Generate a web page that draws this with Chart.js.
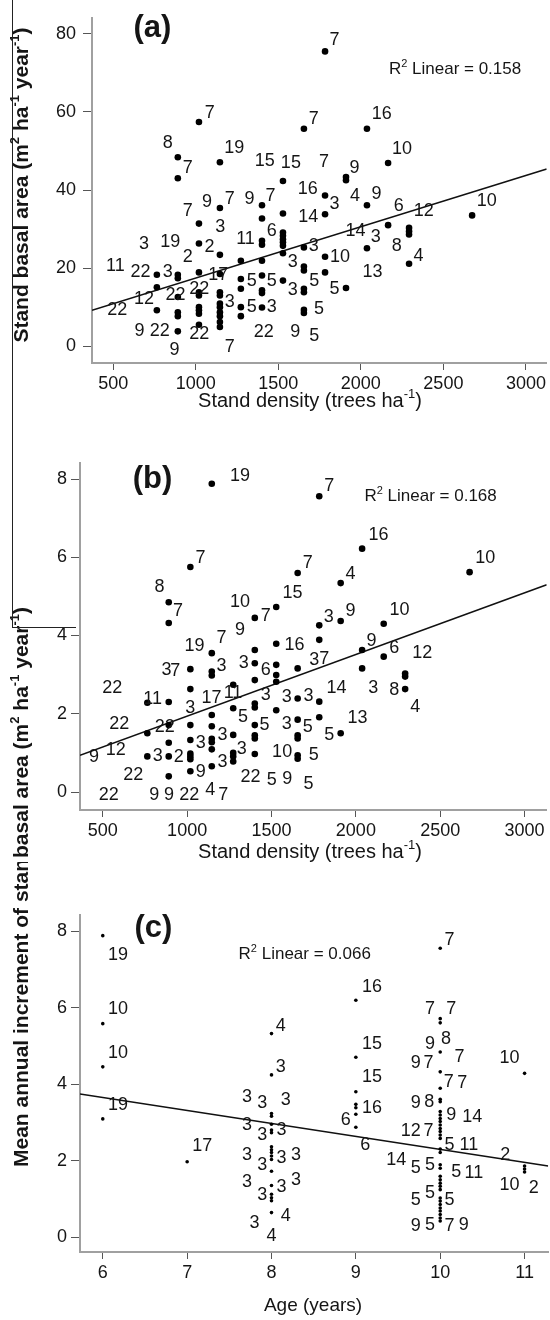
<!DOCTYPE html>
<html><head><meta charset="utf-8">
<script src="https://cdn.jsdelivr.net/npm/chart.js@4.4.0/dist/chart.umd.min.js"></script>
<style>
html,body{margin:0;padding:0;background:#fff;}
#wrap{position:relative;width:550px;height:1320px;overflow:hidden;background:#fff;}
.pane{position:absolute;left:0;width:550px;}
canvas{display:block;}
#edge{position:absolute;left:12px;top:0;width:0;height:628px;border-left:1.5px solid #222;}
#edge2{position:absolute;left:12px;top:627px;width:64px;height:0;border-top:1.5px solid #222;}
</style></head><body>
<div id="wrap">
<div class="pane" style="top:0;height:430px"><canvas id="ca" width="550" height="430"></canvas></div>
<div class="pane" style="top:430px;height:432px"><canvas id="cb" width="550" height="432"></canvas></div>
<div class="pane" style="top:862px;height:458px"><canvas id="cc" width="550" height="458"></canvas></div>
<div id="edge"></div><div id="edge2"></div>
</div>
<script>
// ---------- Panel (a): stand basal area vs stand density ----------
const densityA = [764,764,764, 891,891,891,891,891,891,891,891, 1019,1019,1019,1019,1019,1019,1019,1019,1019,1019,
  1146,1146,1146,1146,1146,1146,1146,1146,1146,1146,1146,1146, 1273,1273,1273,1273,1273,
  1401,1401,1401,1401,1401,1401,1401,1401,1401, 1528,1528,1528,1528,1528,1528,1528,1528,1528,
  1655,1655,1655,1655,1655,1655,1655,1655, 1783,1783,1783,1783,1783, 1910,1910,1910, 2037,2037,2037,
  2165,2165, 2292,2292,2292,2292, 2674];
const basalA = [18.3,15.1,9.2, 48.4,43.0,18.3,17.4,12.6,8.7,7.7,3.8, 57.4,31.4,26.3,18.9,13.8,13.0,10.0,9.2,8.3,5.5,
  47.1,35.4,23.4,18.5,13.8,13.0,10.9,10.0,8.7,7.7,6.2,4.9, 21.9,17.2,14.7,10.0,7.7,
  36.1,32.7,27.0,26.0,21.9,18.1,14.3,13.6,9.9, 42.3,34.0,29.1,28.3,27.4,26.6,25.7,23.8,16.8,
  55.7,25.3,20.4,19.4,14.7,13.8,9.3,8.5, 75.5,38.6,33.8,22.9,18.9, 43.3,42.5,14.9, 55.7,36.1,25.1,
  46.9,31.0, 30.3,29.4,28.6,21.1, 33.5];
const labelTextA = ['7','7','7','16','8','19','10','15','15','7','9','7',
  '7','9','7','9','7','16','3','4','9','6','12','10','3','14','11','6','14','3','8','4',
  '3','19','2','2','3','3','10','11','22','3','17','13','5','5','5','3','5','22','22','12','22',
  '3','5','3','5','9','22','22','22','9','5','9','7'];
const labelXA = [1841,1085,1714,2127,830,1233,2250,1417,1576,1777,1962,951,
  951,1068,1205,1326,1453,1678,1841,1964,2095,2229,2381,2763,1148,1682,1301,1460,1968,2091,2218,2350,
  686,845,951,1083,1714,1587,1873,513,665,830,1136,2070,1339,1460,1718,1587,1841,877,1021,686,524,
  1205,1339,1460,1746,659,782,1021,1411,1602,1718,871,1205];
const labelYA = [78.3,59.8,58.1,59.4,52.1,50.8,50.4,47.4,47.0,47.1,45.7,45.7,
  34.7,36.8,37.6,37.6,38.5,40.2,36.4,38.5,38.9,35.9,34.7,37.2,30.4,33.0,27.4,29.6,29.6,27.9,25.7,23.2,
  26.2,26.6,22.8,25.3,25.7,21.5,22.8,20.6,18.9,18.9,18.1,18.9,16.8,16.8,16.6,14.3,14.7,13.0,14.7,12.1,9.2,
  11.3,10.0,10.0,9.6,3.8,3.8,3.2,3.7,3.7,2.6,-1.0,-0.2];
const fitA = [{x:371,y:9.2},{x:3126,y:45.4}];
const xTicksA = [500,1000,1500,2000,2500,3000];
const yTicksA = [0,20,40,60,80];

// ---------- Panel (b): annual increment vs stand density ----------
const densityB = [764,764,764, 891,891,891,891,891,891,891, 1019,1019,1019,1019,1019,1019,1019,1019,1019,
  1146,1146,1146,1146,1146,1146,1146,1146,1146,1146, 1273,1273,1273,1273,1273,1273,
  1401,1401,1401,1401,1401,1401,1401,1401,1401,1401, 1528,1528,1528,1528,1528,1528,
  1655,1655,1655,1655,1655,1655,1655,1655, 1783,1783,1783,1783,1783, 1910,1910,1910, 2037,2037,2037,
  2165,2165, 2292,2292,2292, 2674];
const incB = [2.28,1.50,0.91, 4.85,4.32,2.30,1.71,1.26,0.91,0.40, 5.75,3.14,2.63,1.71,1.33,0.98,0.91,0.84,0.53,
  7.88,3.55,3.08,2.98,1.97,1.68,1.36,1.27,1.09,0.66, 2.74,2.14,1.46,1.00,0.91,0.78,
  4.45,3.63,3.29,2.86,2.26,2.16,1.71,1.45,1.37,0.97, 4.73,3.79,3.25,2.99,2.82,2.09,
  5.60,3.16,2.39,1.85,1.45,1.37,0.94,0.85, 7.56,4.26,3.89,2.31,1.91, 5.34,4.37,1.50, 6.22,3.63,3.16,
  4.30,3.46, 3.03,2.95,2.63, 5.62];
const labelTextB = ['19','7','16','7','7','10','4','8','15','7','10','7','3','9','10',
  '19','7','9','16','9','6','12','3','7','3','3','6','3','7',
  '22','11','3','17','11','3','3','3','14','3','8','4',
  '22','22','5','5','3','5','13','5','3','3','3',
  '9','12','3','2','3','10','5','9','22','22','5','9','5',
  '22','9','9','22','4','7'];
const labelXB = [1314,1843,2134,1079,1715,2767,1968,836,1625,946,1314,1466,1839,1968,2259,
  1044,1204,1314,1636,2093,2228,2394,878,930,1204,1335,1466,1754,1812,
  556,795,1019,1144,1272,1466,1590,1719,1885,2103,2228,2352,
  598,868,1331,1459,1590,1715,2009,1843,1210,1081,1324,
  448,577,826,951,1210,1563,1750,1081,681,1376,1501,1594,1719,
  535,805,892,1013,1137,1214];
const labelYB = [8.07,7.81,6.58,5.98,5.86,5.98,5.56,5.24,5.09,4.62,4.85,4.49,4.47,4.62,4.66,
  3.72,3.93,4.15,3.76,3.85,3.68,3.55,3.12,3.10,3.21,3.29,3.12,3.38,3.40,
  2.65,2.37,2.14,2.39,2.52,2.48,2.44,2.45,2.65,2.65,2.61,2.18,
  1.75,1.67,1.92,1.71,1.74,1.67,1.88,1.45,1.45,1.24,1.11,
  0.90,1.07,0.91,0.90,0.77,1.03,0.94,0.51,0.43,0.38,0.30,0.34,0.21,
  -0.09,-0.09,-0.09,-0.09,0.04,-0.09];
const fitB = [{x:365,y:0.94},{x:3131,y:5.30}];
const xTicksB = [500,1000,1500,2000,2500,3000];
const yTicksB = [0,2,4,6,8];

// ---------- Panel (c): annual increment vs age ----------
const ageC = [6,6,6,6, 7,
  8,8,8,8,8,8,8,8,8,8,8,8,8,8,8,8,8,8,
  9,9,9,9,9,9,9,
  10,10,10,10,10,10,10,10,10,10,10,10,10,10,10,10,10,10,10,10,10,10,10,10,10,10,10,10,10,10,10,10,10,10,
  11,11,11,11];
const incC = [7.88,5.58,4.45,3.09, 1.97,
  5.32,4.24,3.23,3.16,2.95,2.80,2.73,2.36,2.28,2.21,2.12,2.03,1.72,1.35,1.12,1.03,0.95,0.64,
  6.19,4.70,3.80,3.47,3.38,3.21,2.87,
  7.55,5.71,5.60,4.84,4.32,3.89,3.60,3.54,3.28,3.19,3.10,3.02,2.93,2.84,2.76,2.67,2.58,2.30,2.21,1.89,1.80,
  1.59,1.50,1.41,1.33,1.24,1.02,0.94,0.85,0.76,0.68,0.59,0.50,0.42,
  4.28,1.86,1.78,1.70];
const labelTextC = ['19','7','16','10','7','7','4','15','9','8','10','7','10','3','15','9','7','7','7',
  '3','3','3','16','9','8','9','14','3','3','3','6','6','12','7','5','11','17',
  '3','3','3','3','14','5','5','5','11','2','3','3','3','3','10','2','5','5','5',
  '3','4','4','9','5','7','9','19'];
const labelXC = [6.18,10.11,9.19,6.18,9.88,10.13,8.11,9.19,9.88,10.07,6.18,10.23,10.82,8.11,9.19,9.71,9.86,10.10,10.26,
  7.71,7.89,8.17,9.19,9.71,9.87,10.13,10.38,7.71,7.89,8.12,8.88,9.11,9.65,9.86,10.11,10.34,7.18,
  7.71,7.89,8.12,8.29,9.48,9.71,9.88,10.19,10.40,10.77,7.71,7.89,8.12,8.29,10.82,11.11,9.71,9.88,10.11,
  7.80,8.17,8.00,9.71,9.88,10.11,10.28,6.18];
const labelYC = [7.38,7.77,6.53,5.96,5.96,5.96,5.52,5.05,5.05,5.17,4.80,4.71,4.67,4.45,4.19,4.54,4.54,4.06,4.02,
  3.67,3.51,3.58,3.37,3.50,3.54,3.19,3.15,2.93,2.67,2.80,3.06,2.41,2.76,2.76,2.41,2.41,2.37,
  2.15,1.89,2.06,2.15,2.02,1.80,1.89,1.71,1.67,2.15,1.45,1.10,1.32,1.48,1.37,1.28,0.97,1.15,0.97,
  0.37,0.54,0.02,0.28,0.32,0.28,0.32,3.45];
const fitC = [{x:5.73,y:3.74},{x:11.28,y:1.86}];
const xTicksC = [6,7,8,9,10,11];
const yTicksC = [0,2,4,6,8];

// ---------- drawing ----------
const FONT = "'Liberation Sans', Arial, Helvetica, sans-serif";
const NARROW = "'Liberation Sans Narrow', 'Liberation Sans', Arial, sans-serif";

function drawRich(ctx, segs, x, y, size, weight, family, align) {
  const big = `${weight} ${size}px ${family}`;
  const small = `${weight} ${Math.round(size*0.64)}px ${family}`;
  let total = 0;
  segs.forEach(s => { ctx.font = s[1] ? small : big; total += ctx.measureText(s[0]).width; });
  let cx = align === 'left' ? x : (align === 'right' ? x - total : x - total/2);
  ctx.textAlign = 'left';
  ctx.textBaseline = 'middle';
  segs.forEach(s => {
    ctx.font = s[1] ? small : big;
    ctx.fillText(s[0], cx, s[1] ? y - size*0.32 : y);
    cx += ctx.measureText(s[0]).width;
  });
}

const annotPlugin = {
  id: 'annot',
  afterDatasetsDraw(chart, args, o) {
    const ctx = chart.ctx, xs = chart.scales.x, ys = chart.scales.y;
    ctx.save();
    ctx.fillStyle = '#151515';
    ctx.textAlign = 'center';
    ctx.textBaseline = 'middle';
    ctx.font = `${o.labelSize}px ${FONT}`;
    o.text.forEach((t, i) => ctx.fillText(t, xs.getPixelForValue(o.lx[i]), ys.getPixelForValue(o.ly[i])));
    ctx.font = `bold ${o.letterSize}px ${FONT}`;
    ctx.fillText(o.letter, xs.getPixelForValue(o.letterAt[0]), ys.getPixelForValue(o.letterAt[1]));
    drawRich(ctx, o.r2, xs.getPixelForValue(o.r2At[0]), ys.getPixelForValue(o.r2At[1]), o.r2Size, 'normal', NARROW, 'left');
    drawRich(ctx, o.xTitle, o.xTitleX, o.xTitleY, o.xTitleSize, 'normal', FONT, 'center');
    ctx.translate(o.yTitleX, o.yTitleY);
    ctx.rotate(-Math.PI/2);
    drawRich(ctx, o.yTitle, 0, 0, o.yTitleSize, 'bold', FONT, o.yTitleAlign);
    ctx.restore();
  }
};

function axis(min, max, ticks, fitProp, fitVal, tickLen, pad) {
  return {
    type: 'linear', min, max,
    afterBuildTicks: s => { s.ticks = ticks.map(v => ({value: v})); },
    afterFit: s => { s[fitProp] = fitVal; },
    grid: {display: true, drawOnChartArea: false, drawTicks: true, tickLength: tickLen, color: '#555', lineWidth: 1},
    border: {display: true, color: '#a0a0a0', width: 2},
    ticks: {font: {family: FONT, size: 18}, color: '#151515', padding: pad, autoSkip: false, maxRotation: 0,
      callback: v => String(v)}
  };
}

function makeChart(id, c) {
  new Chart(document.getElementById(id), {
    type: 'scatter',
    data: {datasets: [
      {data: c.fit, showLine: true, borderColor: '#111', borderWidth: 1.6, pointRadius: 0, fill: false, order: 2},
      {data: c.xs.map((v, i) => ({x: v, y: c.ys[i]})), pointRadius: c.r, pointHoverRadius: c.r,
        backgroundColor: '#000', borderColor: '#000', borderWidth: 0, order: 1}
    ]},
    options: {
      responsive: false, animation: false, events: [],
      layout: {padding: {top: c.top, right: 0, left: 0, bottom: 0}},
      plugins: {legend: {display: false}, tooltip: {enabled: false}, annot: c.annot},
      scales: {
        x: axis(c.xMin, c.xMax, c.xTicks, 'height', c.xH, 7, 3),
        y: axis(c.yMin, c.yMax, c.yTicks, 'width', c.yW, 9, c.yPad)
      }
    },
    plugins: [annotPlugin]
  });
}

const yTitleBasal = [['Stand basal area (m',0],['2',1],[' ha',0],['-1',1],[' year',0],['-1',1],[')',0]];
const xTitleDensity = [['Stand density (trees ha',0],['-1',1],[')',0]];

makeChart('ca', {xs: densityA, ys: basalA, fit: fitA, r: 3.3, top: 17, xH: 67, yW: 92, yPad: 7,
  xMin: 371, xMax: 3126, yMin: -4.3, yMax: 84.1, xTicks: xTicksA, yTicks: yTicksA,
  annot: {text: labelTextA, lx: labelXA, ly: labelYA, labelSize: 18, letter: '(a)', letterAt: [737, 81.4], letterSize: 31,
    r2: [['R',0],['2',1],[' Linear = 0.158',0]], r2At: [2170, 71.0], r2Size: 17,
    xTitle: xTitleDensity, xTitleX: 310, xTitleY: 401, xTitleSize: 20,
    yTitle: yTitleBasal, yTitleX: 22, yTitleY: 185, yTitleSize: 21, yTitleAlign: 'center'}});

makeChart('cb', {xs: densityB, ys: incB, fit: fitB, r: 3.3, top: 33, xH: 52, yW: 80, yPad: 4,
  xMin: 365, xMax: 3131, yMin: -0.46, yMax: 8.41, xTicks: xTicksB, yTicks: yTicksB,
  annot: {text: labelTextB, lx: labelXB, ly: labelYB, labelSize: 18, letter: '(b)', letterAt: [795, 7.98], letterSize: 31,
    r2: [['R',0],['2',1],[' Linear = 0.168',0]], r2At: [2051, 7.56], r2Size: 17,
    xTitle: xTitleDensity, xTitleX: 310, xTitleY: 422, xTitleSize: 20,
    yTitle: yTitleBasal, yTitleX: 22, yTitleY: 177, yTitleSize: 21, yTitleAlign: 'right'}});

makeChart('cc', {xs: ageC, ys: incC, fit: fitC, r: 1.8, top: 53, xH: 68, yW: 80, yPad: 4,
  xMin: 5.73, xMax: 11.28, yMin: -0.39, yMax: 8.42, xTicks: xTicksC, yTicks: yTicksC,
  annot: {text: labelTextC, lx: labelXC, ly: labelYC, labelSize: 18, letter: '(c)', letterAt: [6.60, 8.06], letterSize: 31,
    r2: [['R',0],['2',1],[' Linear = 0.066',0]], r2At: [7.61, 7.38], r2Size: 17,
    xTitle: [['Age (years)',0]], xTitleX: 313, xTitleY: 444, xTitleSize: 19,
    yTitle: [['Mean annual increment of stand basal area',0]], yTitleX: 22, yTitleY: 305, yTitleSize: 21, yTitleAlign: 'left'}});
</script>
</body></html>
